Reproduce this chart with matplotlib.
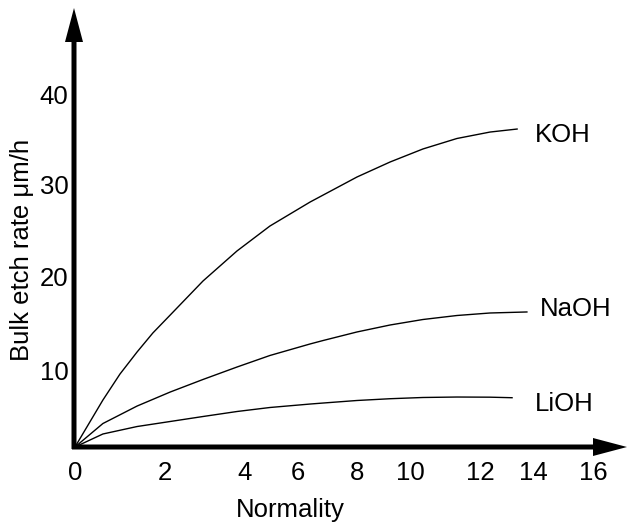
import numpy as np
import matplotlib
matplotlib.use("Agg")
import matplotlib.pyplot as plt
from matplotlib.patches import FancyArrow
from matplotlib.transforms import IdentityTransform

# ---- data ----
x_ticks = [0, 2, 4, 6, 8, 10, 12, 14, 16]
y_ticks = [10, 20, 30, 40]

koh_x = [0, 0.62, 1.0, 1.38, 1.73, 2.13, 2.95, 3.8, 4.94, 6.41, 8.0, 9.25, 10.37, 11.34, 12.38, 13.4]
koh_y = [0, 6.1, 9.48, 11.94, 13.98, 15.91, 19.57, 22.83, 25.54, 28.15, 30.88, 32.53, 33.96, 35.11, 35.82, 36.15]

naoh_x = [0, 0.62, 1.38, 2.13, 2.95, 3.8, 4.94, 6.41, 6.85, 8.0, 9.25, 10.37, 11.34, 12.38, 13.77]
naoh_y = [0, 3.05, 5.32, 7.14, 8.77, 10.32, 11.56, 12.8, 13.17, 14.09, 14.84, 15.43, 15.86, 16.13, 16.24]

lioh_x = [0, 0.62, 1.38, 2.38, 2.95, 3.8, 4.94, 6.41, 6.85, 8.0, 9.25, 10.37, 11.34, 12.38, 13.21]
lioh_y = [0, 1.69, 2.66, 3.51, 3.96, 4.61, 5.13, 5.58, 5.71, 6.04, 6.27, 6.43, 6.49, 6.47, 6.40]

series = [("KOH", koh_x, koh_y, (18, -6)),
          ("NaOH", naoh_x, naoh_y, (13, 3)),
          ("LiOH", lioh_x, lioh_y, (23, -6))]

xlabel = "Normality"
ylabel = "Bulk etch rate \u03bcm/h"

# ---- layout: the hand-drawn axis has uneven tick spacing ----
W, H = 628, 524
FS = 18.5
FONT = ["Liberation Sans", "DejaVu Sans"]
plt.rcParams["font.family"] = FONT

# knot positions in image pixels (hand-drawn axis scale)
xk = np.array([-2, 0, 2, 4, 6, 8, 10, 12, 14, 16, 20], float)
xp = np.array([-15, 75, 165, 245, 298, 357, 410, 480, 533, 593, 713], float)
yk = np.array([-10, 0, 10, 20, 30, 40, 60], float)
yp = H - np.array([524, 447, 370, 277, 185, 94, -88], float)  # height from bottom

fx = lambda v: np.interp(v, xk, xp)
ix = lambda p: np.interp(p, xp, xk)
fy = lambda v: np.interp(v, yk, yp)
iy = lambda p: np.interp(p, yp, yk)

ox, oy = 74, 447  # origin in image pixels

fig = plt.figure(figsize=(W / 100, H / 100), dpi=100)
ax = fig.add_axes([ox / W, (H - oy) / H, 1 - ox / W, oy / H])
ax.set_xscale("function", functions=(fx, ix))
ax.set_yscale("function", functions=(fy, iy))
ax.set_xlim(float(ix(ox)), float(ix(W)))
ax.set_ylim(float(iy(H - oy)), float(iy(H)))
for s in ax.spines.values():
    s.set_visible(False)
ax.set_xticks(x_ticks)
ax.set_xticklabels([str(t) for t in x_ticks])
ax.set_yticks(y_ticks)
ax.set_yticklabels([str(t) for t in y_ticks])
ax.tick_params(axis="x", length=0, pad=10, labelsize=FS)
ax.tick_params(axis="y", length=0, pad=4, labelsize=FS)
ax.minorticks_off()

for name, xs, ys, off in series:
    ax.plot(xs, ys, color="black", lw=1.0, clip_on=False, solid_joinstyle="round")
    ax.annotate(name, xy=(xs[-1], ys[-1]), xytext=off, textcoords="offset pixels",
                ha="left", va="center", fontsize=FS)

# axis arrows (in image pixels, y from bottom)
idt = IdentityTransform()
fig.patches.append(FancyArrow(ox - 2, H - oy, W - 1 - (ox - 2), 0, width=5,
                              head_width=18, head_length=34, length_includes_head=True,
                              color="black", lw=0, transform=idt, figure=fig))
fig.patches.append(FancyArrow(ox, H - oy - 2, 0, (H - 8) - (H - oy - 2), width=5,
                              head_width=18, head_length=34, length_includes_head=True,
                              color="black", lw=0, transform=idt, figure=fig))

fig.text(290 / W, (H - 517) / H, xlabel, ha="center", va="baseline", fontsize=FS)
fig.text(22 / W, 1 - 250 / H, ylabel, ha="center", va="center", rotation=90, fontsize=FS)

fig.savefig("out.png", dpi=100)
